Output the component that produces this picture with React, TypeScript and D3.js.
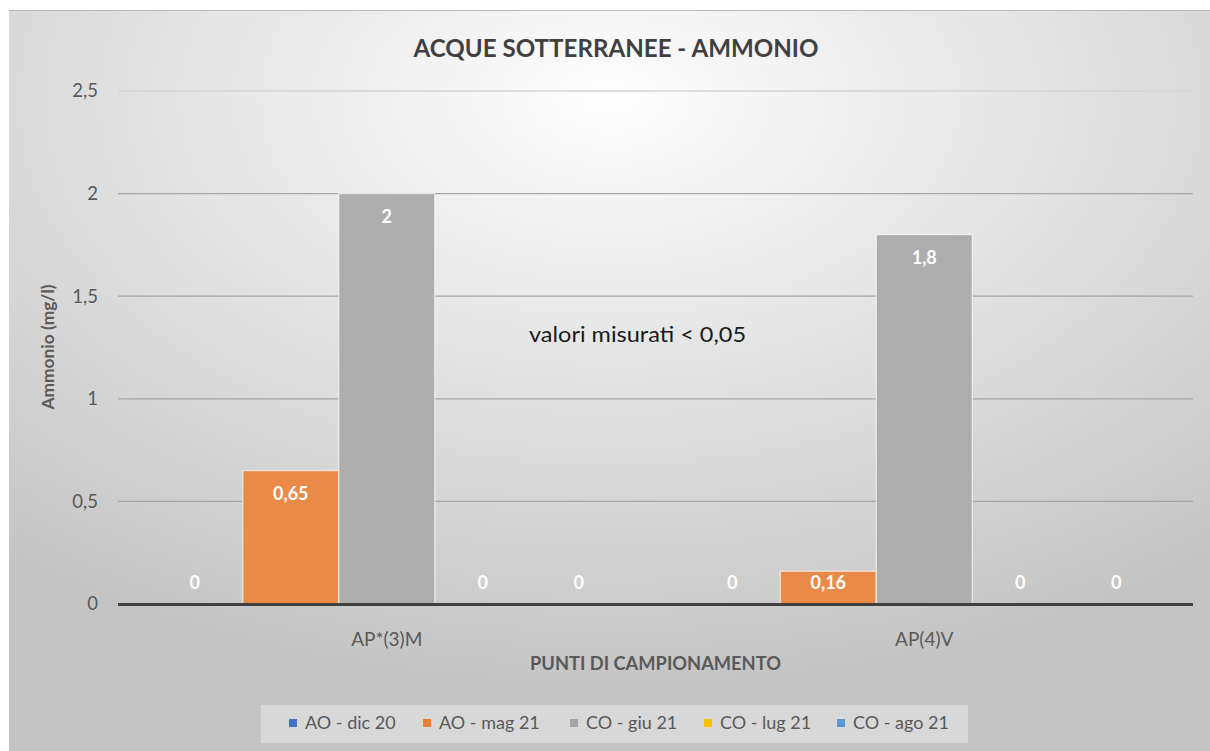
import React, { useEffect, useRef } from "react";
import * as d3 from "d3";

const title = "ACQUE SOTTERRANEE - AMMONIO";
const yAxisTitle = "Ammonio  (mg/l)";
const xAxisTitle = "PUNTI DI CAMPIONAMENTO";
const annotation = "valori misurati < 0,05";
const categories = ["AP*(3)M", "AP(4)V"];
const seriesNames = ["AO - dic 20", "AO - mag 21", "CO - giu 21", "CO - lug 21", "CO - ago 21"];
const seriesColors = ["#4472C4", "#E98A48", "#ADADAD", "#FFC000", "#5B9BD5"];
const legendColors = ["#4472C4", "#ED7D31", "#A5A5A5", "#FFC000", "#5B9BD5"];
const valuesAOdic20 = [0, 0];
const valuesAOmag21 = [0.65, 0.16];
const valuesCOgiu21 = [2, 1.8];
const valuesCOlug21 = [0, 0];
const valuesCOago21 = [0, 0];
const seriesValues = [valuesAOdic20, valuesAOmag21, valuesCOgiu21, valuesCOlug21, valuesCOago21];
const yTicks = [0, 0.5, 1, 1.5, 2, 2.5];

const W = 1210;
const H = 751;
const FONT = "Lato, 'Open Sans', sans-serif";

export default function App() {
  const ref = useRef<SVGSVGElement>(null);

  useEffect(() => {
    const svg = d3.select(ref.current);
    svg.selectAll("*").remove();

    const locale = d3.formatLocale({ decimal: ",", thousands: ".", grouping: [3], currency: ["€", ""] });
    const fmt = (v: number) => locale.format("~g")(v);

    const defs = svg.append("defs");
    const rg = defs
      .append("radialGradient")
      .attr("id", "bg")
      .attr("cx", "50%")
      .attr("cy", "12%")
      .attr("r", "80%")
      .attr("fx", "50%")
      .attr("fy", "12%");
    rg.append("stop").attr("offset", "0%").attr("stop-color", "#FEFEFE");
    rg.append("stop").attr("offset", "55%").attr("stop-color", "#DEDEDE");
    rg.append("stop").attr("offset", "100%").attr("stop-color", "#C4C4C4");

    // frame
    svg.append("rect").attr("x", 9).attr("y", 10).attr("width", W - 9).attr("height", H - 10).attr("fill", "url(#bg)");
    svg.append("line").attr("x1", 9).attr("x2", W).attr("y1", 10.5).attr("y2", 10.5).attr("stroke", "#B8B8B8").attr("stroke-width", 1);

    const left = 118;
    const right = 1193;
    const top = 91;
    const bottom = 604;

    const x = d3.scaleBand<string>().domain(categories).range([left, right]).padding(0);
    const xs = d3.scaleBand<string>().domain(seriesNames).range([0, x.bandwidth()]).paddingInner(0).paddingOuter(0.3);
    const y = d3.scaleLinear().domain([0, 2.5]).range([bottom, top]);

    // title
    svg
      .append("text")
      .attr("x", 616)
      .attr("y", 57)
      .attr("text-anchor", "middle")
      .attr("font-family", FONT)
      .attr("font-weight", "bold")
      .attr("font-size", 24)
      .attr("fill", "#404040")
      .attr("textLength", 405)
      .attr("lengthAdjust", "spacingAndGlyphs")
      .text(title);

    // gridlines
    svg
      .append("g")
      .selectAll("line")
      .data(yTicks.filter((t) => t > 0))
      .join("line")
      .attr("x1", left)
      .attr("x2", right)
      .attr("y1", (d) => y(d))
      .attr("y2", (d) => y(d))
      .attr("stroke", (d) => (d === 2.5 ? "#D4D4D4" : "#A6A6A6"))
      .attr("stroke-width", 1.3);

    // y tick labels
    svg
      .append("g")
      .selectAll("text")
      .data(yTicks)
      .join("text")
      .attr("x", 98)
      .attr("y", (d) => y(d))
      .attr("dy", "0.35em")
      .attr("text-anchor", "end")
      .attr("font-family", FONT)
      .attr("font-size", 18.5)
      .attr("fill", "#595959")
      .text((d) => fmt(d));

    // y axis title
    svg
      .append("text")
      .attr("transform", `translate(54,${347}) rotate(-90)`)
      .attr("text-anchor", "middle")
      .attr("font-family", FONT)
      .attr("font-weight", "bold")
      .attr("font-size", 17)
      .attr("fill", "#595959")
      .attr("textLength", 125)
      .attr("lengthAdjust", "spacingAndGlyphs")
      .text(yAxisTitle);

    // bars
    const flat: { cat: string; ser: string; v: number; i: number }[] = [];
    categories.forEach((c, ci) => seriesNames.forEach((s, si) => flat.push({ cat: c, ser: s, v: seriesValues[si][ci], i: si })));

    svg
      .append("g")
      .selectAll("rect")
      .data(flat.filter((d) => d.v > 0))
      .join("rect")
      .attr("x", (d) => (x(d.cat) as number) + (xs(d.ser) as number))
      .attr("y", (d) => y(d.v))
      .attr("width", xs.bandwidth())
      .attr("height", (d) => bottom - y(d.v))
      .attr("fill", (d) => seriesColors[d.i])
      .attr("stroke", "#FFFFFF")
      .attr("stroke-opacity", 0.7)
      .attr("stroke-width", 1.2);

    // axis line
    svg
      .append("line")
      .attr("x1", left)
      .attr("x2", right)
      .attr("y1", bottom + 0.5)
      .attr("y2", bottom + 0.5)
      .attr("stroke", "#404040")
      .attr("stroke-width", 3);

    // value labels
    svg
      .append("g")
      .selectAll("text")
      .data(flat)
      .join("text")
      .attr("x", (d) => (x(d.cat) as number) + (xs(d.ser) as number) + xs.bandwidth() / 2)
      .attr("y", (d) => Math.min(y(d.v) + 23, bottom - 21))
      .attr("dy", "0.35em")
      .attr("text-anchor", "middle")
      .attr("font-family", FONT)
      .attr("font-weight", "bold")
      .attr("font-size", 18)
      .attr("fill", "#FFFFFF")
      .text((d) => fmt(d.v));

    // x labels
    svg
      .append("g")
      .selectAll("text")
      .data(categories)
      .join("text")
      .attr("x", (d) => (x(d) as number) + x.bandwidth() / 2)
      .attr("y", 639)
      .attr("dy", "0.35em")
      .attr("text-anchor", "middle")
      .attr("font-family", FONT)
      .attr("font-size", 19)
      .attr("fill", "#595959")
      .text((d) => d);

    // x title
    svg
      .append("text")
      .attr("x", (left + right) / 2)
      .attr("y", 664)
      .attr("dy", "0.35em")
      .attr("text-anchor", "middle")
      .attr("font-family", FONT)
      .attr("font-weight", "bold")
      .attr("font-size", 18)
      .attr("fill", "#595959")
      .attr("textLength", 251)
      .attr("lengthAdjust", "spacingAndGlyphs")
      .text(xAxisTitle);

    // annotation
    svg
      .append("text")
      .attr("x", 529)
      .attr("y", 335)
      .attr("dy", "0.35em")
      .attr("font-family", FONT)
      .attr("font-size", 21)
      .attr("fill", "#1A1A1A")
      .attr("textLength", 217)
      .attr("lengthAdjust", "spacingAndGlyphs")
      .text(annotation);

    // legend
    const lg = svg.append("g");
    lg.append("rect")
      .attr("x", 261)
      .attr("y", 705)
      .attr("width", 707)
      .attr("height", 38)
      .attr("fill", "#F2F2F2")
      .attr("fill-opacity", 0.45);
    const legendX = [289, 423, 570, 704, 837];
    seriesNames.forEach((s, i) => {
      lg.append("rect")
        .attr("x", legendX[i])
        .attr("y", 719)
        .attr("width", 8)
        .attr("height", 8)
        .attr("fill", legendColors[i]);
      lg.append("text")
        .attr("x", legendX[i] + 16)
        .attr("y", 723)
        .attr("dy", "0.35em")
        .attr("font-family", FONT)
        .attr("font-size", 18)
        .attr("fill", "#595959")
        .text(s);
    });
  }, []);

  return (
    <svg
      ref={ref}
      width={W}
      height={H}
      style={{ position: "absolute", left: 0, top: 0, display: "block" }}
    />
  );
}
